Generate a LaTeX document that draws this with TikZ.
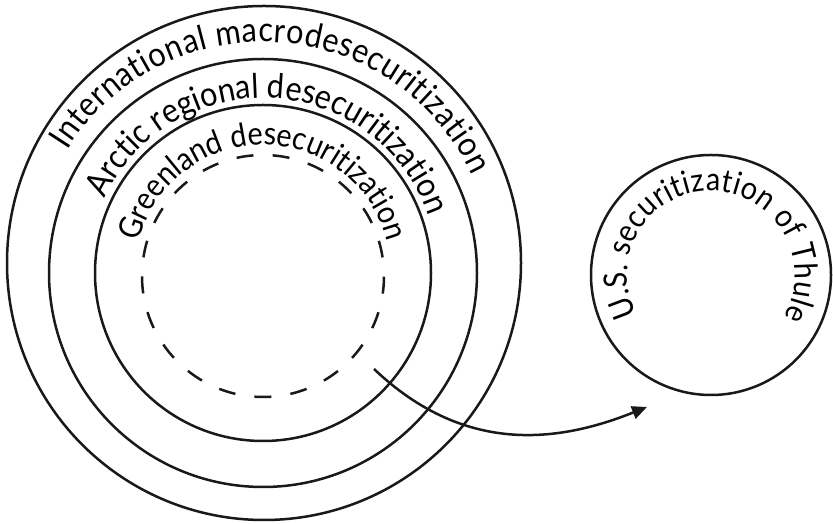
\documentclass[tikz,border=0pt]{standalone}
\usepackage{fontspec}
\newfontfamily\ringfont[FakeStretch=0.9]{Lato}
\usetikzlibrary{decorations.text,arrows.meta,calc}
\begin{document}
\begin{tikzpicture}[x=1pt,y=1pt,
  ring/.style={circle, draw=black!90, line width=2.5pt, inner sep=0pt},
  ringdash/.style={ring, dash pattern=on 17pt off 19.2pt, dash phase=17.55pt},
  flow/.style={draw=black!90, line width=2.5pt, -{Triangle[length=15pt,width=13pt]}},
  arclabel/.style 2 args={decorate, decoration={text along path, text align=fit to path,
    text={|\ringfont\fontsize{#1}{#1}\selectfont|#2}}}]
\useasboundingbox (0,0) rectangle (833,524);

% nested levels of desecuritization
\node[ring, minimum size=514pt] (macro) at (264,261) {};
\node[ring, minimum size=428pt] (arctic) at (263,251) {};
\node[ring, minimum size=336pt] (greenland) at (263,251) {};
\node[ringdash, minimum size=242pt] (core) at (263,248) {};

% Thule
\node[ring, minimum size=240pt] (thule) at (711,249) {};

% curved labels
\coordinate (tc) at (263,251);
\path[arclabel={34}{International macrodesecuritization}]
  ($(tc)+(148:231pt)$) arc[start angle=148, end angle=25, radius=231pt];
\path[arclabel={34}{Arctic regional desecuritization}]
  ($(tc)+(155:175pt)$) arc[start angle=155, end angle=20, radius=175pt];
\path[arclabel={32}{Greenland desecuritization}]
  ($(tc)+(166:128pt)$) arc[start angle=166, end angle=15, radius=128pt];
\path[arclabel={32}{U.S. securitization of Thule}]
  ($(thule.center)+(208:84pt)$) arc[start angle=208, end angle=-30, radius=84pt];

% connector from the core to Thule
\coordinate (flowstart) at (374,155);
\coordinate (flowend) at (647,117);
\draw[flow] (flowstart) .. controls (464,69.5) and (557,81) .. (flowend);
\end{tikzpicture}
\end{document}
